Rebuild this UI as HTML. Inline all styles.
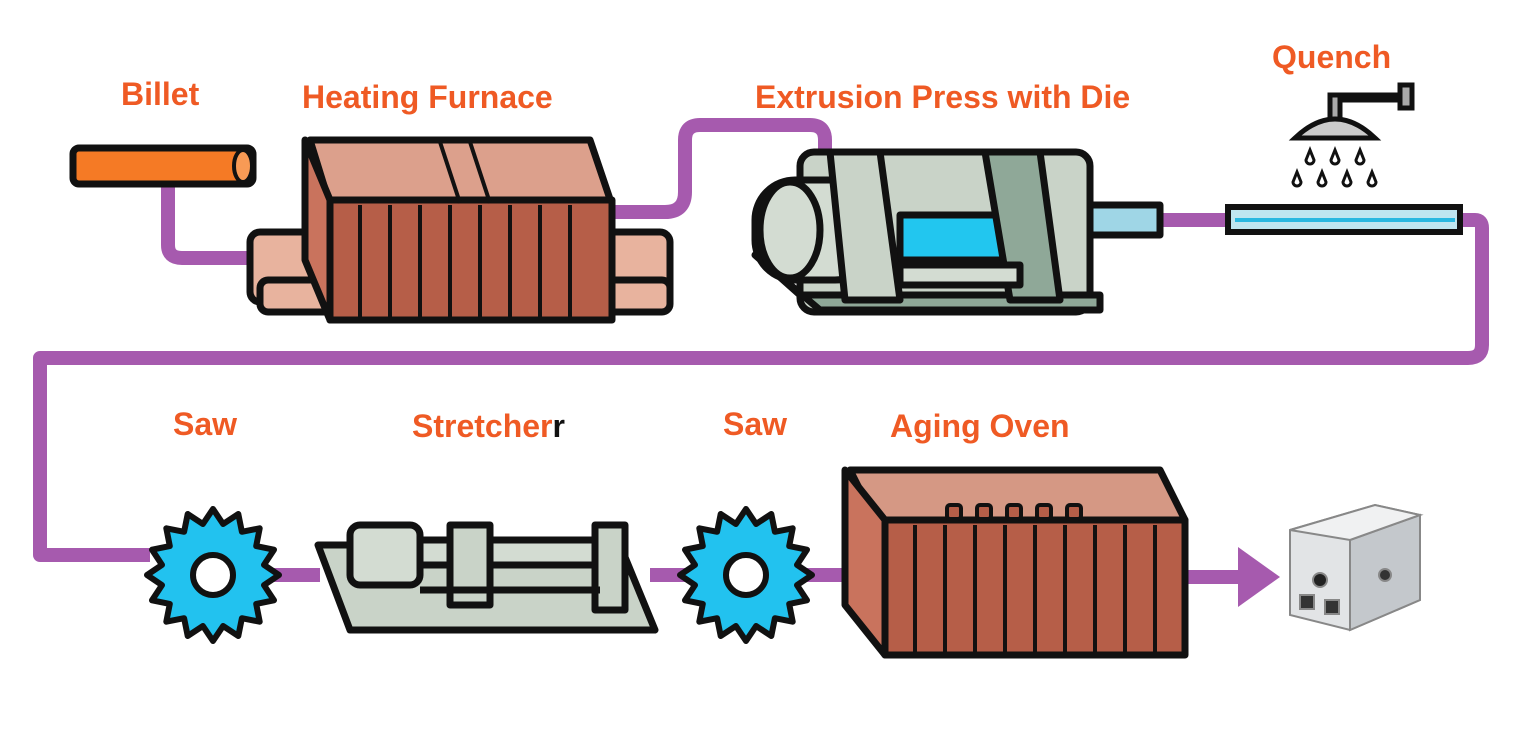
<!DOCTYPE html>
<html><head><meta charset="utf-8"><style>
html,body{margin:0;padding:0;background:#fff;}
svg{display:block}
text{font-family:"Liberation Sans",sans-serif;font-weight:bold;fill:#ef5a24;font-size:32px}
</style></head><body>
<svg width="1513" height="743" viewBox="0 0 1513 743" xmlns="http://www.w3.org/2000/svg">
<rect width="1513" height="743" fill="#fff"/>
<g fill="none" stroke="#a65aae" stroke-width="14" stroke-linejoin="round">
<path d="M168 180 V245 Q168 258 182 258 H260"/>
<path d="M605 212 H665 Q685 212 685 192 V140 Q685 125 700 125 H810 Q825 125 825 140 V160"/>
<path d="M1150 220 H1240"/>
<path d="M1455 220 H1475 Q1482 220 1482 228 V345 Q1482 358 1468 358 H40 V555 H150"/>
<path d="M270 575 H320"/>
<path d="M650 575 H690"/>
<path d="M805 575 H880"/>
<path d="M1185 577 H1245"/>
</g>
<polygon points="1238,547 1280,577 1238,607" fill="#a65aae"/>
<rect x="73" y="148" width="180" height="36" rx="6" fill="#f57a25" stroke="#111" stroke-width="7"/>
<ellipse cx="243" cy="166" rx="9" ry="16" fill="#f89a55" stroke="#111" stroke-width="4"/>
<g stroke="#111" stroke-width="7" stroke-linejoin="round">
<rect x="250" y="232" width="420" height="70" rx="10" fill="#e8b39e"/>
<rect x="260" y="280" width="410" height="32" rx="8" fill="#e8b39e"/>
<polygon points="310,140 590,140 612,205 330,205" fill="#dca08c"/>
<rect x="330" y="200" width="282" height="120" fill="#b65e48"/>
<polygon points="305,140 330,200 330,320 305,260" fill="#c9735d"/>
</g>
<g stroke="#111" stroke-width="4">
<line x1="360" y1="205" x2="360" y2="318"/><line x1="390" y1="205" x2="390" y2="318"/><line x1="420" y1="205" x2="420" y2="318"/><line x1="450" y1="205" x2="450" y2="318"/><line x1="480" y1="205" x2="480" y2="318"/><line x1="510" y1="205" x2="510" y2="318"/><line x1="540" y1="205" x2="540" y2="318"/><line x1="570" y1="205" x2="570" y2="318"/>
<line x1="440" y1="142" x2="460" y2="203"/><line x1="470" y1="142" x2="490" y2="203"/>
</g>
<g stroke="#111" stroke-width="7" stroke-linejoin="round">
<rect x="1080" y="205" width="80" height="30" fill="#9fd6e6"/>
<rect x="800" y="152" width="290" height="160" rx="14" fill="#c9d3c8"/>
<polygon points="755,255 820,310 1100,310 1100,295 800,295" fill="#8fa898"/>
<rect x="755" y="180" width="120" height="100" rx="40" fill="#d3dcd2"/>
<ellipse cx="790" cy="230" rx="30" ry="48" fill="#d3dcd2"/>
<rect x="900" y="215" width="120" height="45" fill="#22c6ef"/>
<polygon points="830,152 880,152 900,300 845,300" fill="#c9d3c8"/>
<polygon points="985,152 1040,152 1060,300 1010,300" fill="#8fa898"/>
<rect x="900" y="265" width="120" height="20" fill="#d3dcd2"/>
</g>
<g stroke="#111" stroke-width="5" fill="#fff">
<path d="M1330 128 V95 H1400 V85 H1412 V108 H1400 V100 H1340 V128" fill="#aaa"/>
<path d="M1295 138 Q1335 100 1375 138 Z" fill="#ccc"/>
</g>
<g fill="none" stroke="#111" stroke-width="3">
<path d="M1310 150 l-4 10 a4 4 0 1 0 8 0 z"/><path d="M1335 150 l-4 10 a4 4 0 1 0 8 0 z"/><path d="M1360 150 l-4 10 a4 4 0 1 0 8 0 z"/>
<path d="M1297 172 l-4 10 a4 4 0 1 0 8 0 z"/><path d="M1322 172 l-4 10 a4 4 0 1 0 8 0 z"/><path d="M1347 172 l-4 10 a4 4 0 1 0 8 0 z"/><path d="M1372 172 l-4 10 a4 4 0 1 0 8 0 z"/>
</g>
<rect x="1228" y="207" width="232" height="25" fill="#bfe6f0" stroke="#111" stroke-width="6"/>
<line x1="1235" y1="220" x2="1455" y2="220" stroke="#2ab8e0" stroke-width="4"/>
<g id="saw">
<polygon id="gear" points="213,508" fill="#22c2ef" stroke="#111" stroke-width="6" stroke-linejoin="round"/>
<circle cx="213" cy="575" r="20" fill="#fff" stroke="#111" stroke-width="6"/>
</g>
<use href="#saw" x="533" y="0"/>
<g stroke="#111" stroke-width="7" stroke-linejoin="round">
<polygon points="318,545 620,545 655,630 350,630" fill="#c9d3c8"/>
<rect x="350" y="525" width="70" height="60" rx="10" fill="#d3dcd2"/>
<rect x="420" y="540" width="180" height="25" fill="#d3dcd2"/>
<rect x="450" y="525" width="40" height="80" fill="#c9d3c8"/>
<rect x="595" y="525" width="30" height="85" fill="#c9d3c8"/>
<line x1="420" y1="590" x2="600" y2="590"/>
</g>
<g stroke="#111" stroke-width="7" stroke-linejoin="round">
<polygon points="850,470 1160,470 1185,520 875,520" fill="#d59884"/>
<rect x="885" y="520" width="300" height="135" fill="#b65e48"/>
<polygon points="845,470 885,520 885,655 845,605" fill="#c9735d"/>
</g>
<g stroke="#111" stroke-width="4">
<line x1="915" y1="525" x2="915" y2="652"/><line x1="945" y1="525" x2="945" y2="652"/><line x1="975" y1="525" x2="975" y2="652"/><line x1="1005" y1="525" x2="1005" y2="652"/><line x1="1035" y1="525" x2="1035" y2="652"/><line x1="1065" y1="525" x2="1065" y2="652"/><line x1="1095" y1="525" x2="1095" y2="652"/><line x1="1125" y1="525" x2="1125" y2="652"/><line x1="1155" y1="525" x2="1155" y2="652"/>
</g>
<g fill="#b65e48" stroke="#111" stroke-width="4">
<rect x="947" y="505" width="14" height="14" rx="3"/><rect x="977" y="505" width="14" height="14" rx="3"/><rect x="1007" y="505" width="14" height="14" rx="3"/><rect x="1037" y="505" width="14" height="14" rx="3"/><rect x="1067" y="505" width="14" height="14" rx="3"/>
</g>
<g stroke="#888" stroke-width="2">
<polygon points="1290,530 1375,505 1420,515 1420,600 1350,630 1290,615" fill="#e2e4e6"/>
<polygon points="1350,540 1420,515 1420,600 1350,630" fill="#c4c8cc"/>
<polygon points="1290,530 1375,505 1420,515 1350,540" fill="#f0f1f2"/>
<circle cx="1320" cy="580" r="7" fill="#222"/>
<rect x="1300" y="595" width="14" height="14" fill="#333"/>
<rect x="1325" y="600" width="14" height="14" fill="#333"/>
<circle cx="1385" cy="575" r="6" fill="#333"/>
</g>
<text x="121" y="105">Billet</text>
<text x="302" y="108">Heating Furnace</text>
<text x="755" y="108">Extrusion Press with Die</text>
<text x="1272" y="68">Quench</text>
<text x="173" y="435">Saw</text>
<text x="412" y="437">Stretcher<tspan fill="#111">r</tspan></text>
<text x="723" y="435">Saw</text>
<text x="890" y="437">Aging Oven</text>
</svg>
<script>
var p=[],n=16,cx=213,cy=575;
for(var i=0;i<n*2;i++){var r=(i%2==0)?66:52;var a=Math.PI*i/n-Math.PI/2;p.push((cx+r*Math.cos(a)).toFixed(1)+","+(cy+r*Math.sin(a)).toFixed(1));}
document.getElementById("gear").setAttribute("points",p.join(" "));
</script>
</body></html>
